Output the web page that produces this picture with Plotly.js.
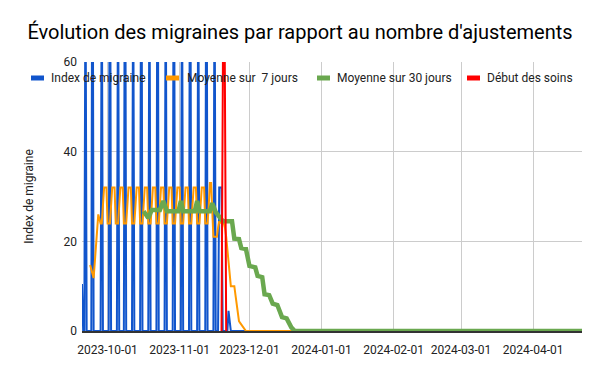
<!DOCTYPE html>
<html>
<head>
<meta charset="utf-8">
<script src="https://cdn.plot.ly/plotly-3.0.1.min.js"></script>
<style>html,body{margin:0;padding:0;background:#fff;}#chart{width:600px;height:371px;}</style>
</head>
<body>
<div id="chart"></div>
<script>
// ---------- DATA ----------
const chartTitle = "Évolution des migraines par rapport au nombre d'ajustements";
const yTitle = "Index de migraine";
const seriesNames = ["Index de migraine", "Moyenne sur\u00a0 7 jours", "Moyenne sur 30 jours", "Début des soins"];
const seriesColors = ["#1155cc", "#ff9900", "#6aa84f", "#ff0000"];

const firstDate = "2023-09-20";
const lastDate = "2024-04-22";
const lastValue = 0;

// Index de migraine: one reading every 12 hours from this start
const blueStart = "2023-09-20T00:00";
const blueValues = [
  10.5, 0, 0, 84, 0, 0, 0, 0, 0, 112,
  0, 0, 0, 0, 0, 0, 0, 84, 0, 0,
  0, 0, 0, 0, 112, 0, 0, 0, 0, 0,
  0, 84, 0, 0, 0, 0, 0, 112, 0, 0,
  0, 0, 0, 0, 84, 0, 0, 0, 0, 0,
  0, 112, 0, 0, 0, 0, 0, 0, 84, 0,
  0, 0, 0, 0, 0, 112, 0, 0, 0, 0,
  0, 0, 84, 0, 0, 0, 0, 0, 0, 112,
  0, 0, 0, 0, 0, 0, 84, 0, 0, 0,
  0, 0, 0, 112, 0, 0, 0, 0, 0, 0,
  84, 0, 0, 0, 0, 0, 0, 112, 0, 0,
  0, 0, 0, 0, 84, 0, 0, 0, 32, 32,
  32, 0, 0, 0, 0, 0, 4.5, 2.5, 0, 0,
  0, 0, 0, 0, 0, 0, 0, 0, 0, 0, 0
];

// Moyenne sur 7 jours: every 12 hours from this start
const orangeStart = "2023-09-23T12:00";
const orangeValues = [
  14.7, 13.7, 12.8, 11.8, 15.3, 18.9, 22.4, 26, 25, 24,
  24, 28, 32, 32, 32, 24, 24, 24, 28, 32,
  32, 32, 24, 24, 24, 28, 32, 32, 32, 24,
  24, 24, 28, 32, 32, 32, 24, 24, 24, 28,
  32, 32, 32, 24, 24, 24, 28, 32, 32, 32,
  24, 24, 24, 28, 32, 32, 32, 24, 24, 24,
  28, 32, 32, 32, 24, 24, 24, 28, 32, 32,
  32, 24, 24, 24, 28, 32, 32, 32, 24, 24,
  24, 28, 32, 32, 32, 24, 24, 24, 28, 32,
  32, 32, 24, 24, 24, 28, 32, 32, 32, 24,
  24, 24, 28, 33, 33, 27, 21, 21, 21, 21,
  23, 24.5, 24, 24.5, 25, 24, 23, 21, 18, 15,
  12.5, 10, 10, 10, 10, 8, 6, 4, 2.2, 1.8,
  1.4, 1, 0.6, 0.3, 0
];

// Moyenne sur 30 jours: vertices of the line
const greenDates = [
  "2023-10-16 12:00", "2023-10-18 12:00", "2023-10-20", "2023-10-23 12:00", "2023-10-25",
  "2023-10-26 12:00", "2023-10-31 12:00", "2023-11-01 12:00", "2023-11-02 12:00", "2023-11-07 12:00",
  "2023-11-08 12:00", "2023-11-09 12:00", "2023-11-14", "2023-11-15", "2023-11-16 12:00",
  "2023-11-18 12:00", "2023-11-19 12:00", "2023-11-23 12:00", "2023-11-24 12:00", "2023-11-26 12:00",
  "2023-11-27 12:00", "2023-11-29 12:00", "2023-12-01", "2023-12-03 12:00", "2023-12-04 12:00",
  "2023-12-06 12:00", "2023-12-07 12:00", "2023-12-09 12:00", "2023-12-11", "2023-12-13",
  "2023-12-15", "2023-12-17", "2023-12-19", "2023-12-20 12:00", "2024-04-22"
];
const greenValues = [
  26.7, 25.2, 27, 27, 29,
  26.7, 26.7, 29, 26.7, 26.7,
  29, 26.7, 26.7, 28.5, 26.5,
  25.3, 24.5, 24.5, 20.6, 20.5,
  18.5, 18.3, 14.5, 14.2, 12.3,
  12, 8.2, 8, 6.1, 5.8,
  3.1, 2.8, 0.8, 0, 0
];

// Début des soins
const redDates = ["2023-11-19", "2023-11-20", "2023-11-21"];
const redValues = [0, 100, 0];

const yTicks = [0, 20, 40, 60];

// ---------- BUILD ----------
function halfDayDates(start, n) {
  const t0 = Date.parse(start + ":00Z");
  const out = [];
  for (let i = 0; i < n; i++) {
    out.push(new Date(t0 + i * 43200000).toISOString().slice(0, 16).replace("T", " "));
  }
  return out;
}

const traces = [
  {x: halfDayDates(blueStart, blueValues.length).concat([lastDate]), y: blueValues.concat([lastValue]),
   name: seriesNames[0], type: "scatter", mode: "lines", line: {color: seriesColors[0], width: 2}, showlegend: false},
  {x: halfDayDates(orangeStart, orangeValues.length).concat([lastDate]), y: orangeValues.concat([lastValue]),
   name: seriesNames[1], type: "scatter", mode: "lines", line: {color: seriesColors[1], width: 2}, showlegend: false},
  {x: greenDates, y: greenValues,
   name: seriesNames[2], type: "scatter", mode: "lines", line: {color: seriesColors[2], width: 4.5}, showlegend: false},
  {x: redDates, y: redValues,
   name: seriesNames[3], type: "scatter", mode: "lines", line: {color: seriesColors[3], width: 2}, showlegend: false}
];

// custom legend (pixel layout converted to paper coordinates)
const M = {l: 82, r: 18, t: 62, b: 40};
const W = 600, H = 371;
const pw = W - M.l - M.r, ph = H - M.t - M.b;
const px = v => (v - M.l) / pw;
const py = v => (H - M.b - v) / ph;
const legendItems = [
  {sx: 31, tx: 49},
  {sx: 166, tx: 185},
  {sx: 317, tx: 335},
  {sx: 467, tx: 485}
];
const legendY = 78;
const shapes = [], annotations = [];
legendItems.forEach((it, i) => {
  shapes.push({type: "rect", xref: "paper", yref: "paper",
    x0: px(it.sx), x1: px(it.sx + 13), y0: py(legendY + 2.5), y1: py(legendY - 2.5),
    fillcolor: seriesColors[i], line: {width: 0}, layer: "above"});
  annotations.push({xref: "paper", yref: "paper", x: px(it.tx), y: py(legendY),
    xanchor: "left", yanchor: "middle", showarrow: false, text: seriesNames[i],
    font: {size: 12, color: "#222"}});
});

const layout = {
  width: W, height: H,
  margin: M,
  paper_bgcolor: "#ffffff", plot_bgcolor: "#ffffff",
  font: {family: "Roboto, Arial, sans-serif", size: 12, color: "#222"},
  title: {text: chartTitle, font: {size: 20, color: "#000"}, x: 0.5, xref: "container",
          y: 1 - 32 / H, yref: "container", yanchor: "middle", xanchor: "center"},
  showlegend: false,
  xaxis: {type: "date", range: [firstDate, lastDate], dtick: "M1", tick0: "2023-10-01",
          tickformat: "%Y-%m-%d", showgrid: true, gridcolor: "#cccccc", gridwidth: 1,
          showline: true, linecolor: "#333333", linewidth: 1.5, ticks: "", zeroline: false,
          ticklabelstandoff: 7,
          tickfont: {size: 12, color: "#222"}, fixedrange: true},
  yaxis: {range: [0, 60], tickvals: yTicks, ticktext: yTicks.map(String), showgrid: true,
          gridcolor: "#cccccc", gridwidth: 1, zeroline: false, showline: false, ticks: "",
          ticklabelstandoff: 4,
          tickfont: {size: 12, color: "#222"},
          title: {text: yTitle, font: {size: 12, color: "#222"}, standoff: 27}, fixedrange: true},
  shapes: shapes,
  annotations: annotations
};

Plotly.newPlot("chart", traces, layout, {displayModeBar: false, staticPlot: true});
</script>
</body>
</html>
